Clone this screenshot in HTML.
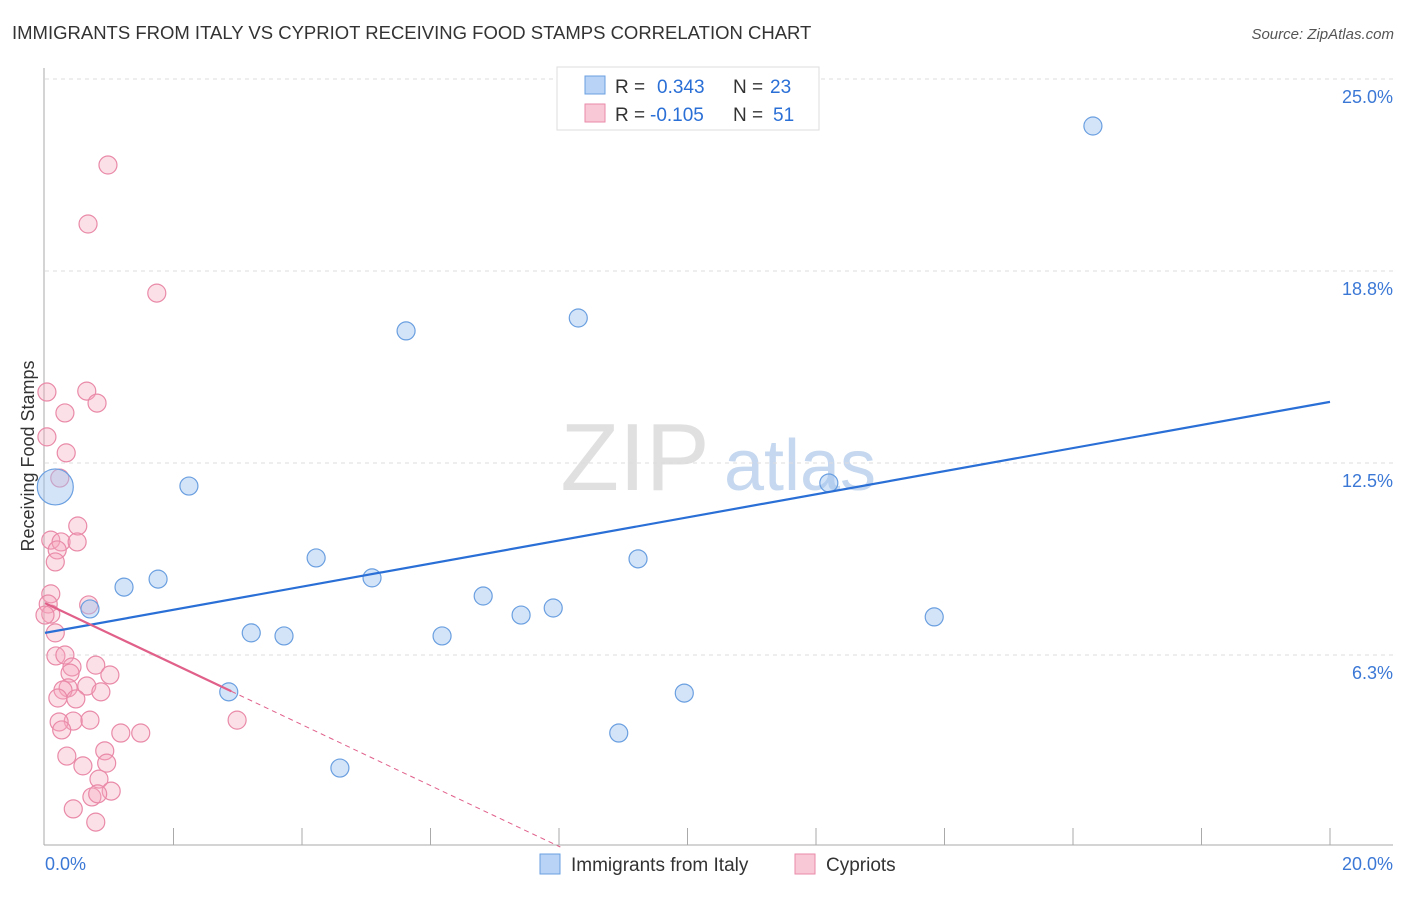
<!DOCTYPE html>
<html><head><meta charset="utf-8"><style>
body{margin:0;background:#fff;font-family:"Liberation Sans",sans-serif}
svg text{font-family:"Liberation Sans",sans-serif}
</style></head><body>
<svg id="c" width="1406" height="892" viewBox="0 0 1406 892">
<text x="12" y="39" font-size="18.5" fill="#333">IMMIGRANTS FROM ITALY VS CYPRIOT RECEIVING FOOD STAMPS CORRELATION CHART</text>
<text x="1394" y="39" font-size="15" fill="#555" text-anchor="end" font-style="italic">Source: ZipAtlas.com</text>
<text x="635" y="490" font-size="96" fill="#e0e0e0" font-family="Liberation Serif" text-anchor="middle">ZIP</text>
<text x="800" y="490" font-size="72" fill="#c5d8ef" text-anchor="middle">atlas</text>
<text transform="translate(34,456) rotate(-90)" font-size="18" fill="#333" text-anchor="middle">Receiving Food Stamps</text>
<g id="grid"></g><g id="pts"></g><g id="lines"></g>
<g>
<rect x="557" y="67" width="262" height="63" fill="#fff" stroke="#ddd"/>
<rect x="585" y="76" width="20" height="18" fill="#b8d3f5" stroke="#6a9fe0"/>
<rect x="585" y="104" width="20" height="18" fill="#f9c8d6" stroke="#e98aa8"/>
<text x="615" y="93" font-size="19" fill="#333">R = </text><text x="657" y="93" font-size="19" fill="#2a6fd6">0.343</text>
<text x="733" y="93" font-size="19" fill="#333">N = </text><text x="770" y="93" font-size="19" fill="#2a6fd6">23</text>
<text x="615" y="121" font-size="19" fill="#333">R = </text><text x="650" y="121" font-size="19" fill="#2a6fd6">-0.105</text>
<text x="733" y="121" font-size="19" fill="#333">N = </text><text x="773" y="121" font-size="19" fill="#2a6fd6">51</text>
</g>
<g>
<rect x="540" y="854" width="20" height="20" fill="#b8d3f5" stroke="#6a9fe0"/>
<text x="571" y="871" font-size="19" fill="#333">Immigrants from Italy</text>
<rect x="795" y="854" width="20" height="20" fill="#f9c8d6" stroke="#e98aa8"/>
<text x="826" y="871" font-size="19" fill="#333">Cypriots</text>
</g>
</svg>
<script>
const xTickLabels=["0.0%","20.0%"];
const yTickValues=[6.25,12.5,18.75,25];
const yTickLabels=["6.3%","12.5%","18.8%","25.0%"];
const italyX=[16.31,5.62,8.30,2.24,12.20,0.16,4.22,9.23,1.76,5.09,1.23,0.70,6.82,7.41,7.91,13.84,3.21,3.72,6.18,2.86,9.95,8.93,4.59];
const italyY=[23.47,16.80,17.22,11.75,11.85,11.72,9.41,9.38,8.72,8.76,8.46,7.75,8.17,7.55,7.78,7.49,6.97,6.87,6.87,5.05,5.01,3.71,2.57];
const italyBig=[0,0,0,0,0,1,0,0,0,0,0,0,0,0,0,0,0,0,0,0,0,0,0];
const cypX=[0.98,0.67,1.74,0.03,0.65,0.81,0.31,0.03,0.33,0.23,0.51,0.09,0.25,0.50,0.19,0.16,0.09,0.05,0.68,0.09,0.16,0.17,0.31,0.42,0.79,0.39,1.01,0.36,0.28,0.65,0.87,0.48,0.20,0.44,0.70,0.22,0.26,1.18,1.49,0.34,0.93,0.59,0.96,0.84,1.03,0.73,0.82,0.44,0.79,2.99,0.00];
const cypY=[22.20,20.28,18.03,14.81,14.84,14.45,14.13,13.35,12.83,12.01,10.45,9.99,9.93,9.93,9.67,9.28,8.24,7.91,7.88,7.58,6.97,6.22,6.25,5.86,5.92,5.66,5.60,5.18,5.11,5.24,5.05,4.82,4.85,4.10,4.13,4.07,3.81,3.71,3.71,2.96,3.13,2.64,2.73,2.21,1.82,1.63,1.73,1.24,0.81,4.13,7.55];
const italyTrend=[6.97,14.49];
const cypTrend=[7.94,-0.99];
const sx=v=>45+v*64.25, sy=v=>847-v*30.72;
const NS="http://www.w3.org/2000/svg";
function mk(p,t,a){const e=document.createElementNS(NS,t);for(const k in a)e.setAttribute(k,a[k]);p.appendChild(e);return e;}
const g=document.getElementById('grid');
yTickValues.forEach((v,i)=>{
 const l=mk(g,'line',{x1:45,x2:1393,y1:sy(v),y2:sy(v),stroke:'#ddd','stroke-dasharray':'4,4'});
 
 
 const t=mk(g,'text',{x:1393,y:sy(v)+24,'font-size':18,fill:'#3b78d6','text-anchor':'end'});t.textContent=yTickLabels[i];
 
 
});
const ax=mk(g,'line',{x1:44,x2:44,y1:68,y2:845,stroke:'#aaa'});


const bx=mk(g,'line',{x1:44,x2:1393,y1:845,y2:845,stroke:'#aaa'});


for(let i=1;i<=10;i++){const v=i*2;const t=mk(g,'line',{x1:sx(v),x2:sx(v),y1:828,y2:845,stroke:'#aaa'});
 
 }
[[0,'start',45],[20,'end',1393]].forEach((d,i)=>{const t=mk(g,'text',{x:d[2],y:870,'font-size':18,fill:'#3b78d6','text-anchor':d[1]});t.textContent=xTickLabels[i];
 
 });
const P=document.getElementById('pts');
cypX.forEach((x,i)=>{const c=mk(P,'circle',{cx:sx(x),cy:sy(cypY[i]),r:9,fill:'rgba(245,165,190,0.35)',stroke:'#e98aa8','stroke-width':1.2});
 
 });
italyX.forEach((x,i)=>{const c=mk(P,'circle',{cx:sx(x),cy:sy(italyY[i]),r:italyBig[i]?18:9,fill:'rgba(160,196,240,0.45)',stroke:'#6a9fe0','stroke-width':1.2});
 
 });
const L=document.getElementById('lines');
const b=mk(L,'line',{x1:sx(0),y1:sy(italyTrend[0]),x2:sx(20),y2:sy(italyTrend[1]),stroke:'#2a6fd6','stroke-width':2.2});


const f=x=>cypTrend[0]+cypTrend[1]*x;
const p1=mk(L,'line',{x1:sx(0),y1:sy(f(0)),x2:sx(2.9),y2:sy(f(2.9)),stroke:'#e0608a','stroke-width':2.2});


const xe=cypTrend[0]/-cypTrend[1];
const p2=mk(L,'line',{x1:sx(2.9),y1:sy(f(2.9)),x2:sx(xe),y2:sy(0),stroke:'#e0608a','stroke-width':1,'stroke-dasharray':'5,4'});


</script>
</body></html>
